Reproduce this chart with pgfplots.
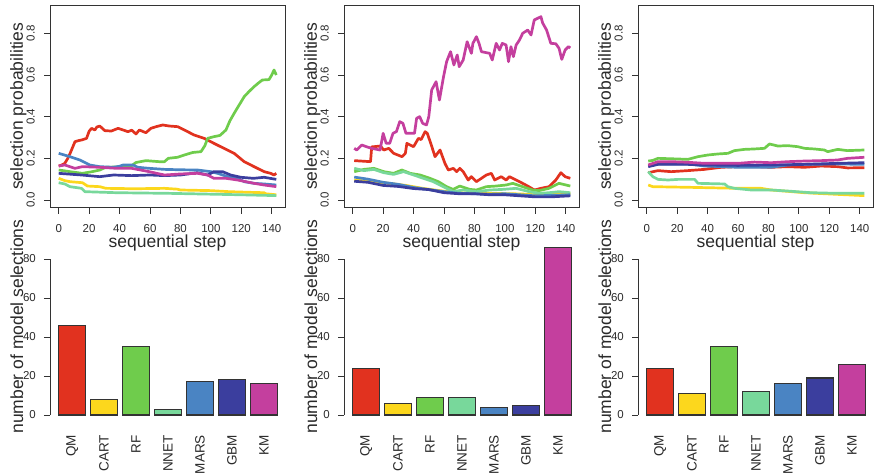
\documentclass[border=0pt]{standalone}
\usepackage{pgfplots}
\pgfplotsset{compat=1.18}
\usepackage{fontspec}
\setmainfont{Liberation Sans}
\definecolor{cQM}{HTML}{E1321F}
\definecolor{cCART}{HTML}{FCD71D}
\definecolor{cRF}{HTML}{6FCC4C}
\definecolor{cNNET}{HTML}{78D89B}
\definecolor{cMARS}{HTML}{4A84C3}
\definecolor{cGBM}{HTML}{3B3E9E}
\definecolor{cKM}{HTML}{C43F9E}
\definecolor{axcol}{HTML}{333333}
\definecolor{txtcol}{HTML}{2A2A2A}
\newcommand\ticksize{\fontsize{11.5}{13}\selectfont}
\newcommand\labsize{\fontsize{17.5}{21}\selectfont}
\newcommand\catsize{\fontsize{13.5}{15}\selectfont}
\pgfplotsset{
  topax/.style={
    scale only axis, width=235pt, height=202.5pt, anchor=south west,
    xmin=-5.72, xmax=148.72, ymin=-0.036, ymax=0.936,
    xtick={0,20,...,140}, ytick={0,0.2,0.4,0.6,0.8},
    xtick pos=left, ytick pos=left,
    tick align=outside, major tick length=6pt,
    tick style={color=axcol, line width=0.9pt},
    axis line style={color=axcol, line width=0.9pt},
    tick label style={font=\ticksize, color=txtcol},
    xticklabel={\pgfmathprintnumber[assume math mode=true]{\tick}},
    yticklabel={\pgfmathprintnumber[fixed,fixed zerofill,precision=1,assume math mode=true]{\tick}},
    xticklabel style={anchor=north, inner sep=0pt, yshift=-11pt},
    yticklabel style={inner sep=0pt, xshift=-9pt, rotate=90, anchor=south},
    xlabel={sequential step}, ylabel={selection probabilities},
    label style={font=\labsize, color=txtcol, inner sep=0pt},
    xlabel style={at={(axis description cs:0.5,-0.1975)}, anchor=base},
    ylabel style={at={(axis description cs:-0.115,0.5)}, anchor=base},
    every axis plot/.append style={no marks, line width=2.7pt, line join=round},
  },
  botax/.style={
    scale only axis, width=236pt, height=156pt, anchor=south west,
    xmin=-0.128, xmax=8.728, ymin=0, ymax=80, clip=false,
    axis lines*=left, x axis line style={draw=none},
    xtick={0.7,1.9,3.1,4.3,5.5,6.7,7.9}, xticklabels={QM,CART,RF,NNET,MARS,GBM,KM},
    xtick style={draw=none}, ytick={0,20,...,80},
    tick align=outside, major tick length=6pt,
    ytick style={color=axcol, line width=0.9pt},
    y axis line style={color=axcol, line width=0.9pt},
    tick label style={color=txtcol},
    yticklabel={\pgfmathprintnumber[assume math mode=true]{\tick}},
    xticklabel style={font=\catsize, inner sep=0pt, yshift=-14pt, rotate=90, anchor=east},
    yticklabel style={font=\ticksize, anchor=east, inner sep=0pt, xshift=-8pt},
    ylabel={number of model selections},
    label style={font=\labsize, color=txtcol, inner sep=0pt},
    ylabel style={at={(axis description cs:-0.1144,0.567)}, anchor=base},
    every axis plot/.append style={ybar, bar width=1, bar shift=0pt, draw=axcol, line width=1.1pt},
  },
}
\begin{document}
\begin{tikzpicture}
\path[use as bounding box] (0pt,0pt) rectangle (874pt,-473pt);
% ---------------- top left
\begin{axis}[topax, at={(50pt,-207.5pt)}]
\addplot[cQM] coordinates {(0,0.163)(2,0.168)(4,0.176)(6,0.2)(7.5,0.224)(10.7,0.28)(13,0.285)(15,0.288)(18.3,0.296)(20,0.33)(21.6,0.344)(23.8,0.336)(25,0.35)(27,0.355)(30.3,0.333)(34.6,0.331)(39,0.344)(42.3,0.336)(45.5,0.328)(48,0.335)(50.8,0.317)(53,0.336)(57.3,0.323)(60.6,0.344)(64,0.352)(68.4,0.36)(72.8,0.355)(78.2,0.352)(82.6,0.336)(89,0.312)(95.6,0.296)(102,0.272)(108.6,0.248)(115.3,0.224)(121.9,0.184)(128.4,0.16)(135,0.136)(139.3,0.128)(141.5,0.12)(143,0.128)};
\addplot[cCART] coordinates {(0,0.104)(4,0.093)(7.4,0.088)(15.6,0.083)(18.9,0.067)(27,0.064)(31,0.056)(50,0.054)(69.5,0.056)(78,0.052)(80,0.048)(100,0.045)(112,0.04)(125,0.037)(135,0.035)(136,0.03)(143,0.025)};
\addplot[cRF] coordinates {(0,0.144)(7.4,0.136)(15.6,0.128)(22,0.136)(27,0.144)(31,0.157)(45,0.16)(48,0.165)(50.8,0.18)(57.3,0.189)(66,0.184)(69.5,0.184)(72,0.2)(78,0.205)(82.6,0.216)(88,0.228)(93.5,0.232)(96,0.26)(97.9,0.296)(102,0.304)(106,0.31)(109.9,0.336)(112.5,0.38)(115.3,0.416)(118.6,0.456)(121.9,0.496)(125,0.52)(128.4,0.544)(131,0.56)(133.8,0.576)(138.2,0.578)(140,0.6)(141.5,0.624)(143,0.6)};
\addplot[cNNET] coordinates {(0,0.083)(4,0.077)(7.4,0.064)(15,0.056)(17.2,0.04)(38,0.035)(72,0.032)(100,0.028)(120,0.025)(143,0.021)};
\addplot[cMARS] coordinates {(0,0.224)(7.4,0.208)(13.9,0.192)(20.4,0.168)(27,0.16)(36,0.157)(40,0.162)(42.3,0.168)(48.8,0.168)(52,0.157)(59.5,0.152)(69.5,0.147)(80,0.145)(91.3,0.144)(100,0.136)(104.4,0.128)(111,0.112)(116,0.109)(121.9,0.088)(128.4,0.08)(135,0.077)(143,0.072)};
\addplot[cGBM] coordinates {(0,0.128)(15,0.12)(27,0.112)(36,0.12)(48,0.117)(60,0.12)(69.5,0.117)(80,0.12)(91,0.131)(97.9,0.12)(102,0.136)(107.7,0.136)(113,0.12)(119.7,0.109)(128,0.104)(135,0.109)(139,0.104)(143,0.099)};
\addplot[cKM] coordinates {(0,0.163)(4,0.168)(10.7,0.152)(15.6,0.16)(27,0.157)(38,0.152)(48,0.152)(59.5,0.136)(69.5,0.12)(80,0.125)(91.3,0.128)(97.9,0.12)(102,0.104)(110,0.104)(117.5,0.096)(128.4,0.08)(135,0.072)(143,0.064)};
\end{axis}
% ---------------- top middle
\begin{axis}[topax, at={(344pt,-207.5pt)}]
\addplot[cQM] coordinates {(1,0.189)(11.7,0.184)(12.5,0.255)(18.2,0.259)(20.4,0.24)(23.7,0.248)(26.9,0.224)(32.4,0.208)(34.6,0.224)(35.6,0.272)(40,0.256)(43.2,0.296)(45,0.29)(47.6,0.328)(49,0.32)(51.3,0.272)(54.1,0.208)(57.4,0.24)(60.6,0.176)(62.8,0.144)(66.1,0.152)(68.3,0.136)(70.4,0.152)(72.6,0.136)(75.9,0.096)(78,0.112)(81.3,0.088)(84.6,0.104)(87.8,0.12)(91.1,0.128)(93.3,0.096)(97.6,0.112)(100.8,0.096)(103,0.112)(106.3,0.1)(109.6,0.088)(115,0.067)(119.4,0.048)(123.7,0.056)(129.1,0.064)(133.5,0.096)(136.8,0.131)(139.6,0.112)(143,0.104)};
\addplot[cCART] coordinates {(1,0.096)(10,0.09)(24,0.08)(35,0.07)(46,0.056)(57,0.045)(68,0.035)(80,0.033)(90,0.032)(111,0.029)(120,0.025)(131,0.032)(143,0.03)};
\addplot[cRF] coordinates {(1,0.136)(7.4,0.147)(13.9,0.152)(20.4,0.136)(26.9,0.128)(32.3,0.144)(37.8,0.128)(44.3,0.12)(50.8,0.104)(56.3,0.088)(61.7,0.064)(66,0.051)(70.4,0.067)(76.9,0.051)(81.3,0.048)(87.8,0.064)(94.3,0.067)(100.8,0.072)(105.2,0.08)(111.7,0.064)(118.2,0.048)(122.5,0.045)(129,0.056)(135.6,0.08)(143,0.067)};
\addplot[cNNET] coordinates {(1,0.152)(7.4,0.141)(13.9,0.147)(20.4,0.131)(26.9,0.123)(33.4,0.136)(40,0.12)(46.5,0.104)(53,0.088)(59.5,0.064)(66,0.04)(72.6,0.048)(81.3,0.04)(90,0.048)(98.7,0.051)(107.4,0.056)(116,0.04)(122.5,0.032)(129,0.035)(135.6,0.04)(143,0.035)};
\addplot[cMARS] coordinates {(1,0.11)(10,0.1)(20,0.085)(30,0.075)(40,0.06)(50,0.05)(60,0.04)(70,0.032)(80,0.03)(90,0.028)(100,0.03)(110,0.025)(120,0.02)(130,0.022)(143,0.025)};
\addplot[cGBM] coordinates {(1,0.09)(10,0.085)(20,0.07)(30,0.065)(40,0.055)(50,0.05)(60,0.035)(70,0.03)(80,0.03)(90,0.025)(100,0.025)(110,0.02)(120,0.015)(130,0.015)(143,0.02)};
\addplot[cKM] coordinates {(1,0.248)(2.6,0.24)(5.9,0.264)(9,0.256)(12.4,0.248)(18,0.24)(20,0.32)(22,0.272)(24.3,0.272)(26.5,0.32)(28.7,0.328)(30.9,0.376)(33,0.368)(35,0.32)(40.6,0.32)(42,0.392)(44,0.4)(46,0.368)(48.5,0.36)(50,0.4)(51.9,0.528)(54.8,0.568)(57,0.48)(59.5,0.584)(61.7,0.664)(64.3,0.712)(66.5,0.648)(68.7,0.696)(70,0.64)(72.6,0.672)(75.2,0.76)(78,0.704)(79,0.752)(81.3,0.784)(83,0.752)(84.6,0.712)(90,0.704)(91.7,0.672)(94.3,0.752)(96.5,0.72)(98.3,0.752)(100.8,0.744)(102.4,0.664)(104,0.736)(105.6,0.688)(107.4,0.744)(109.6,0.768)(111.7,0.8)(115,0.816)(117.2,0.792)(119.3,0.864)(121.5,0.872)(123.7,0.88)(124.8,0.85)(127.4,0.816)(130.2,0.752)(133.5,0.75)(135.6,0.728)(137.4,0.675)(139.6,0.72)(141.8,0.736)(143,0.73)};
\end{axis}
% ---------------- top right
\begin{axis}[topax, at={(638pt,-207.5pt)}]
\addplot[cQM] coordinates {(1,0.131)(7.4,0.141)(16,0.136)(27,0.141)(38,0.147)(49,0.157)(60,0.16)(70.8,0.16)(81.8,0.157)(92.7,0.16)(103.7,0.157)(114.6,0.163)(125.5,0.16)(132,0.154)(143,0.155)};
\addplot[cCART] coordinates {(1,0.072)(4,0.064)(27,0.061)(60,0.056)(75.2,0.056)(81.8,0.048)(103.7,0.035)(125.5,0.027)(143,0.021)};
\addplot[cRF] coordinates {(1,0.187)(4,0.19)(7.4,0.2)(20,0.197)(27,0.195)(33.7,0.208)(40.2,0.216)(46.8,0.221)(53.3,0.224)(57.7,0.237)(64.3,0.243)(70.8,0.245)(77.4,0.248)(80.7,0.269)(86.2,0.259)(92.7,0.261)(99.3,0.256)(103.7,0.248)(110.2,0.245)(116.8,0.24)(119,0.232)(125.5,0.243)(132,0.237)(143,0.24)};
\addplot[cNNET] coordinates {(1,0.136)(4,0.112)(7.4,0.099)(14,0.096)(20.5,0.099)(31.5,0.099)(33.7,0.08)(51.2,0.077)(53.3,0.064)(57.7,0.056)(68.7,0.048)(81.8,0.048)(92.7,0.043)(108,0.035)(125.5,0.032)(143,0.032)};
\addplot[cMARS] coordinates {(1,0.165)(7.4,0.173)(27,0.173)(38,0.163)(60,0.157)(81.8,0.157)(92.7,0.168)(103.7,0.171)(125.5,0.173)(143,0.171)};
\addplot[cGBM] coordinates {(1,0.16)(7.4,0.171)(27,0.171)(38,0.168)(60,0.166)(81.8,0.168)(103.7,0.171)(125.5,0.176)(143,0.179)};
\addplot[cKM] coordinates {(1,0.168)(7.4,0.184)(16,0.184)(27,0.181)(38,0.176)(49,0.176)(60,0.176)(70.8,0.182)(81.8,0.179)(92.7,0.184)(103.7,0.187)(114.6,0.189)(125.5,0.192)(132,0.2)(143,0.205)};
\end{axis}
% ---------------- bottom left
\begin{axis}[botax, at={(50pt,-415pt)}]
\addplot[fill=cQM] coordinates {(0.7,46)};
\addplot[fill=cCART] coordinates {(1.9,8)};
\addplot[fill=cRF] coordinates {(3.1,35)};
\addplot[fill=cNNET] coordinates {(4.3,3)};
\addplot[fill=cMARS] coordinates {(5.5,17)};
\addplot[fill=cGBM] coordinates {(6.7,18)};
\addplot[fill=cKM] coordinates {(7.9,16)};
\end{axis}
% ---------------- bottom middle
\begin{axis}[botax, at={(344pt,-415pt)}]
\addplot[fill=cQM] coordinates {(0.7,24)};
\addplot[fill=cCART] coordinates {(1.9,6)};
\addplot[fill=cRF] coordinates {(3.1,9)};
\addplot[fill=cNNET] coordinates {(4.3,9)};
\addplot[fill=cMARS] coordinates {(5.5,4)};
\addplot[fill=cGBM] coordinates {(6.7,5)};
\addplot[fill=cKM] coordinates {(7.9,86)};
\end{axis}
% ---------------- bottom right
\begin{axis}[botax, at={(638pt,-415pt)}]
\addplot[fill=cQM] coordinates {(0.7,24)};
\addplot[fill=cCART] coordinates {(1.9,11)};
\addplot[fill=cRF] coordinates {(3.1,35)};
\addplot[fill=cNNET] coordinates {(4.3,12)};
\addplot[fill=cMARS] coordinates {(5.5,16)};
\addplot[fill=cGBM] coordinates {(6.7,19)};
\addplot[fill=cKM] coordinates {(7.9,26)};
\end{axis}
\end{tikzpicture}
\end{document}
